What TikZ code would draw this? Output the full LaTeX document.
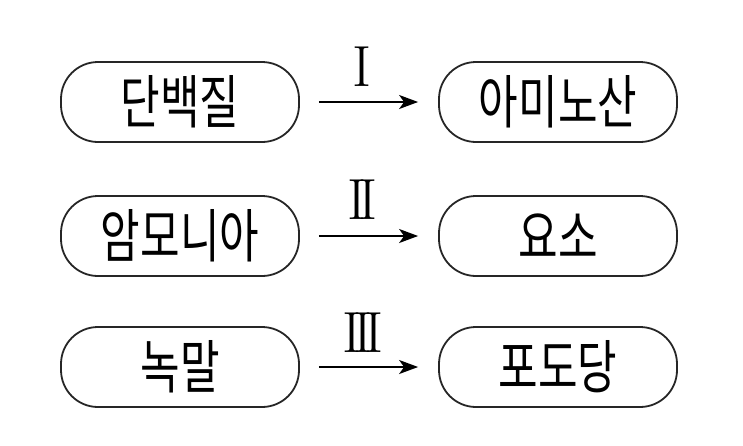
\documentclass[tikz,border=0pt]{standalone}
\usepackage{fontspec}
\newfontfamily\cjk{Noto Sans CJK KR}
\usetikzlibrary{arrows.meta}
\tikzset{
  pill/.style={draw=black!85, line width=1.8pt, rounded corners=37pt, minimum width=238pt, minimum height=80pt, inner sep=0pt, font=\cjk\fontsize{43}{43}\selectfont},
  conn/.style={line width=1.8pt, -{Stealth[length=19pt,width=14pt,inset=5pt]}, shorten <=19pt, shorten >=20pt},
  numlab/.style={font=\rmfamily\fontsize{58}{58}\selectfont, inner sep=0pt}
}
\newcommand{\tall}[1]{\scalebox{1}[1.35]{#1}}
\newcommand{\rj}{\kern-0.14em}
\begin{document}
\begin{tikzpicture}[x=1pt,y=-1pt]
\useasboundingbox (0,0) rectangle (743,445);
\node[pill] (a1) at (180,102) {\tall{단백질}};
\node[pill] (b1) at (558,102) {\tall{아미노산}};
\node[pill] (a2) at (180,236) {\tall{암모니아}};
\node[pill] (b2) at (558,236) {\tall{요소}};
\node[pill] (a3) at (180,367) {\tall{녹말}};
\node[pill] (b3) at (558,367) {\tall{포도당}};
\draw[conn] (a1) -- (b1);
\draw[conn] (a2) -- (b2);
\draw[conn] (a3) -- (b3);
\node[numlab] (l1) at (362,67) {I};
\node[numlab] (l2) at (362,200) {I\rj I};
\node[numlab] (l3) at (363,333) {I\rj I\rj I};
\end{tikzpicture}
\end{document}
